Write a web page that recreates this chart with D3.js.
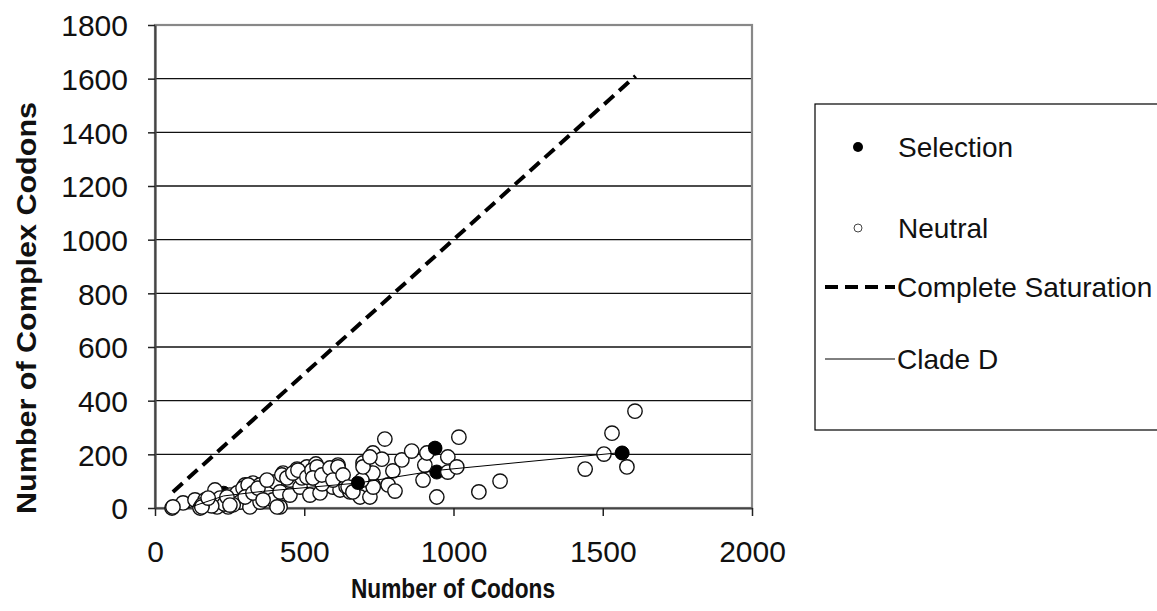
<!DOCTYPE html>
<html>
<head>
<meta charset="utf-8">
<script src="https://cdn.jsdelivr.net/npm/d3@7/dist/d3.min.js"></script>
<style>
  html, body { margin: 0; padding: 0; background: #fff; }
  svg { display: block; font-family: "Liberation Sans", Arial, sans-serif; }
</style>
</head>
<body>
<svg id="chart" width="1157" height="611"></svg>
<script>
// Codon counts per sequence: x = number of codons, y = number of complex codons
const selectionX = [230, 680, 938, 944, 1565];
const selectionY = [55, 93, 223, 134, 205];

const neutralX = [57, 94, 134, 151, 168, 178, 201, 208, 218, 245, 251, 275, 285, 302, 308, 318, 328, 342, 352, 352,
  362, 375, 375, 385, 395, 402, 419, 419, 429, 452, 452, 476, 486, 492, 509, 519, 529, 539, 553, 586,
  596, 613, 620, 653, 687, 697, 720, 720, 730, 730, 730, 731, 760, 770, 781, 797, 804, 827, 860, 898,
  904, 911, 944, 981, 981, 1011, 1018, 1085, 1156, 1441, 1504, 1531, 1581, 1608, 262, 232, 190, 158, 640, 560,
  60, 157, 178, 241, 251, 295, 312, 302, 328, 345, 375, 362, 409, 425, 442, 462, 479, 509, 526, 543,
  529, 559, 586, 613, 596, 630, 647, 663, 693, 697, 720];
const neutralY = [0, 19, 30, 0, 30, 22, 67, 4, 37, 4, 48, 56, 22, 86, 56, 4, 93, 74, 22, 86,
  41, 67, 97, 67, 30, 97, 60, 4, 130, 104, 48, 145, 78, 112, 153, 48, 112, 164, 56, 145,
  78, 160, 67, 60, 41, 168, 130, 41, 205, 86, 130, 78, 182, 257, 86, 138, 63, 179, 212, 104,
  160, 205, 41, 190, 134, 153, 264, 60, 100, 145, 201, 279, 153, 361, 12, 15, 8, 12, 80, 90,
  4, 4, 37, 41, 11, 74, 86, 41, 56, 74, 104, 30, 4, 123, 112, 130, 141, 115, 141, 153,
  112, 123, 149, 153, 104, 123, 78, 60, 104, 153, 190];

// Clade D trend, traced through its sequences
const cladeX = [110, 230, 360, 680, 944, 1565];
const cladeY = [0, 45, 62, 93, 140, 207];

// y = x: every codon complex
const saturationX = [60, 1610];
const saturationY = [60, 1610];

const xTicks = [0, 500, 1000, 1500, 2000];
const yTicks = [0, 200, 400, 600, 800, 1000, 1200, 1400, 1600, 1800];

const legendItems = ["Selection", "Neutral", "Complete Saturation", "Clade D"];

const svg = d3.select("#chart");
const x = d3.scaleLinear().domain([0, 2000]).range([155, 752]);
const y = d3.scaleLinear().domain([0, 1800]).range([508, 25]);

// horizontal gridlines
svg.append("g").selectAll("line").data(yTicks.filter(t => t > 0 && t < 1800)).join("line")
  .attr("x1", x(0)).attr("x2", x(2000))
  .attr("y1", d => y(d)).attr("y2", d => y(d))
  .attr("stroke", "#111").attr("stroke-width", 1.4);

// plot area frame
svg.append("rect")
  .attr("x", x(0)).attr("y", y(1800))
  .attr("width", x(2000) - x(0)).attr("height", y(0) - y(1800))
  .attr("fill", "none").attr("stroke", "#888").attr("stroke-width", 2.2);

// axes
const fmt = d3.format("d");
const xAxis = svg.append("g").attr("transform", `translate(0,${y(0)})`)
  .call(d3.axisBottom(x).tickValues(xTicks).tickFormat(fmt).tickSize(8).tickSizeOuter(0));
const yAxis = svg.append("g").attr("transform", `translate(${x(0)},0)`)
  .call(d3.axisLeft(y).tickValues(yTicks).tickFormat(fmt).tickSize(7).tickSizeOuter(0));
[xAxis, yAxis].forEach(g => {
  g.select(".domain").attr("stroke", "#444").attr("stroke-width", 2.2);
  g.selectAll(".tick line").attr("stroke", "#222").attr("stroke-width", 1.5);
  g.selectAll("text").attr("font-size", 30).attr("fill", "#111")
    .attr("font-family", "'Liberation Sans', Arial, sans-serif");
});
xAxis.selectAll("text").attr("y", 43).attr("dy", "0.36em");
yAxis.selectAll("text").attr("x", -27).attr("dy", "0.36em");

// selection points (drawn first, neutral points sit on top)
svg.append("g").selectAll("circle").data(selectionX.map((v, i) => [v, selectionY[i]])).join("circle")
  .attr("cx", d => x(d[0])).attr("cy", d => y(d[1])).attr("r", 7)
  .attr("fill", "#000").attr("stroke", "#000").attr("stroke-width", 1);

svg.append("g").selectAll("circle").data(neutralX.map((v, i) => [v, neutralY[i]])).join("circle")
  .attr("cx", d => x(d[0])).attr("cy", d => y(d[1])).attr("r", 7.2)
  .attr("fill", "#fff").attr("stroke", "#111").attr("stroke-width", 1.4);

// redraw selection points that sit clear of the cloud
svg.append("g").selectAll("circle").data([[680, 93], [938, 223], [1565, 205]]).join("circle")
  .attr("cx", d => x(d[0])).attr("cy", d => y(d[1])).attr("r", 7).attr("fill", "#000");

const line = d3.line().x(d => x(d[0])).y(d => y(d[1]));

// complete saturation
svg.append("path").datum(saturationX.map((v, i) => [v, saturationY[i]]))
  .attr("d", line).attr("fill", "none").attr("stroke", "#000")
  .attr("stroke-width", 4).attr("stroke-dasharray", "13,7");

// clade D
svg.append("path").datum(cladeX.map((v, i) => [v, cladeY[i]]))
  .attr("d", line).attr("fill", "none").attr("stroke", "#000").attr("stroke-width", 1);

// axis titles
svg.append("text").attr("x", 453).attr("y", 598).attr("text-anchor", "middle")
  .attr("font-size", 27).attr("font-weight", "bold").attr("fill", "#111")
  .attr("textLength", 204).attr("lengthAdjust", "spacingAndGlyphs").text("Number of Codons");
svg.append("text").attr("transform", "translate(36,308) rotate(-90)").attr("text-anchor", "middle")
  .attr("font-size", 28).attr("font-weight", "bold").attr("fill", "#111")
  .attr("textLength", 412).attr("lengthAdjust", "spacingAndGlyphs").text("Number of Complex Codons");

// legend
const lg = svg.append("g");
lg.append("rect").attr("x", 815).attr("y", 104).attr("width", 350).attr("height", 326)
  .attr("fill", "#fff").attr("stroke", "#000").attr("stroke-width", 1.2);
const rowsY = [147, 228, 287, 359];
lg.selectAll("text").data(legendItems).join("text")
  .attr("x", (d, i) => i < 2 ? 898 : 897).attr("y", (d, i) => rowsY[i]).attr("dy", "0.36em")
  .attr("font-size", 28).attr("fill", "#111").text(d => d);
lg.append("circle").attr("cx", 858).attr("cy", rowsY[0]).attr("r", 5).attr("fill", "#000");
lg.append("circle").attr("cx", 858).attr("cy", rowsY[1]).attr("r", 4).attr("fill", "#fff")
  .attr("stroke", "#444").attr("stroke-width", 1);
lg.append("line").attr("x1", 825).attr("x2", 895).attr("y1", rowsY[2]).attr("y2", rowsY[2])
  .attr("stroke", "#000").attr("stroke-width", 4).attr("stroke-dasharray", "13,7");
lg.append("line").attr("x1", 825).attr("x2", 895).attr("y1", rowsY[3]).attr("y2", rowsY[3])
  .attr("stroke", "#000").attr("stroke-width", 1);
</script>
</body>
</html>
